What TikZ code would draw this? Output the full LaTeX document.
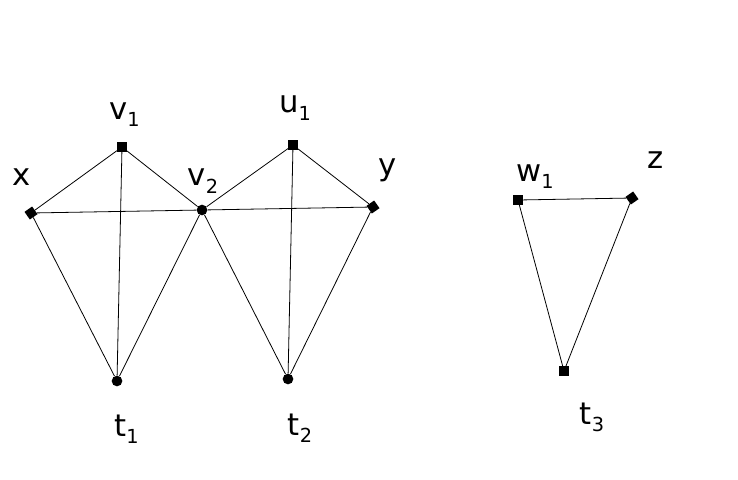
\documentclass[tikz,border=0pt]{standalone}
\usepackage{fontspec}
\setmainfont{DejaVu Sans}
\newcommand{\vlab}[2]{#1\raisebox{-5.5pt}{\fontsize{14.5}{15}\selectfont #2}}
\begin{document}
\begin{tikzpicture}[x=0.75pt, y=-0.75pt,
        font=\fontsize{23}{25}\selectfont,
        sq/.style={rectangle, fill=black, inner sep=0pt, minimum size=7pt},
        dot/.style={circle, fill=black, inner sep=0pt, minimum size=8pt},
        dia/.style={sq, rotate=35},
        lab/.style={inner sep=0pt}]
    \useasboundingbox (0,0) rectangle (738,479);
    % vertices
    \node[dia] (x) at (31,213) {};
    \node[sq] (v1) at (122,147) {};
    \node[dot] (v2) at (202,210) {};
    \node[sq] (u1) at (293,145) {};
    \node[dia] (y) at (373,207) {};
    \node[dot] (t1) at (117,381) {};
    \node[dot] (t2) at (288,379) {};
    \node[sq] (w1) at (518,200) {};
    \node[dia] (z) at (632,198) {};
    \node[sq] (t3) at (564,371) {};
    % edges
    \foreach \a/\b in {x/v1, v1/v2, x/v2, v2/y, x/t1, v1/t1, v2/t1,
            v2/u1, u1/y, u1/t2, v2/t2, y/t2, w1/z, w1/t3, z/t3}{
        \draw[line width=0.6pt] (\a) -- (\b);
    }
    % labels
    \node[lab] (lx) at (21.5,177.5) {x};
    \node[lab] (lv1) at (124.5,114.5) {\vlab{v}{1}};
    \node[lab] (lv2) at (203,181) {\vlab{v}{2}};
    \node[lab] (lu1) at (295,108) {\vlab{u}{1}};
    \node[lab] (ly) at (387.5,170.5) {y};
    \node[lab] (lw1) at (535,176.5) {\vlab{w}{1}};
    \node[lab] (lz) at (656,160.5) {z};
    \node[lab] (lt1) at (126.5,429.5) {\vlab{t}{1}};
    \node[lab] (lt2) at (300,428) {\vlab{t}{2}};
    \node[lab] (lt3) at (592,417.5) {\vlab{t}{3}};
\end{tikzpicture}
\end{document}
